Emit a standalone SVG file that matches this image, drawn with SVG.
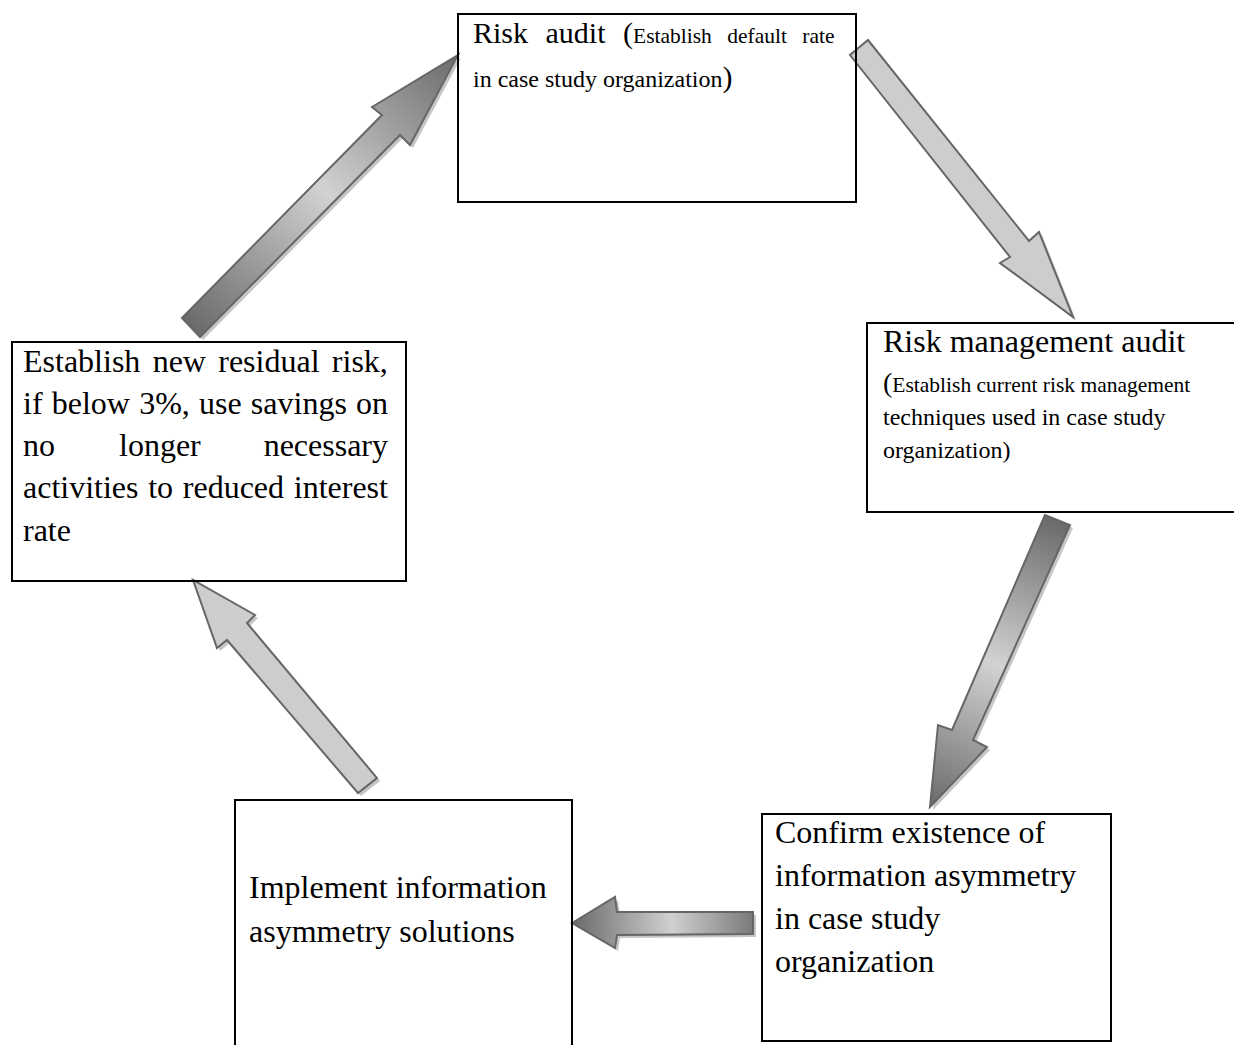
<svg xmlns="http://www.w3.org/2000/svg" xmlns:xlink="http://www.w3.org/1999/xlink" width="1234" height="1045" viewBox="0 0 1234 1045">
<style>
.box{fill:none;stroke:#000;stroke-width:2}
.t{font-family:"Liberation Serif","Times New Roman",serif;fill:#000}
.big{font-size:32px}
.arrow{stroke:#666;stroke-width:2;stroke-linejoin:miter}
.flat{fill:#cdcdcd}
.shadow{fill:#b8b8b8;stroke:none;opacity:0.8}
</style>
<defs>
<linearGradient id="g1" gradientUnits="userSpaceOnUse" x1="191" y1="327" x2="458" y2="55">
<stop offset="0" stop-color="#6a6a6a"/><stop offset="0.5" stop-color="#d2d2d2"/><stop offset="1" stop-color="#6a6a6a"/>
</linearGradient>
<linearGradient id="g3" gradientUnits="userSpaceOnUse" x1="1057" y1="520" x2="930" y2="807">
<stop offset="0" stop-color="#6a6a6a"/><stop offset="0.5" stop-color="#d2d2d2"/><stop offset="1" stop-color="#6a6a6a"/>
</linearGradient>
<linearGradient id="g4" gradientUnits="userSpaceOnUse" x1="753" y1="923" x2="572" y2="923">
<stop offset="0" stop-color="#7a7a7a"/><stop offset="0.45" stop-color="#d0d0d0"/><stop offset="1" stop-color="#6a6a6a"/>
</linearGradient>
<polygon id="a1" points="182,318 382,115 372,107 458,55 410,145 400,135 200,337"/>
<polygon id="a2" points="850,55 1010,257 1000,263 1073,317 1039,232 1029,241 868,40"/>
<polygon id="a3" points="1045,515 952,730 938,725 930,807 987,747 973,740 1070,525"/>
<polygon id="a4" points="572,923 615,897 617,912 753,912 753,934 617,935 615,948"/>
<polygon id="a5" points="193,580 217,648 227,640 358,793 377,778 247,623 255,615"/>
</defs>
<rect width="1234" height="1045" fill="#fff"/>
<g id="connectors">
<use xlink:href="#a1" class="shadow" transform="translate(3,3)"/>
<use xlink:href="#a1" class="arrow" fill="url(#g1)"/>
<use xlink:href="#a2" class="shadow" transform="translate(3,3)"/>
<use xlink:href="#a2" class="arrow flat"/>
<use xlink:href="#a3" class="shadow" transform="translate(3,3)"/>
<use xlink:href="#a3" class="arrow" fill="url(#g3)"/>
<use xlink:href="#a4" class="shadow" transform="translate(3,3)"/>
<use xlink:href="#a4" class="arrow" fill="url(#g4)"/>
<use xlink:href="#a5" class="shadow" transform="translate(3,3)"/>
<use xlink:href="#a5" class="arrow flat"/>
</g>
<g id="node-risk-audit">
<rect class="box" x="458" y="14" width="398" height="188"/>
<text class="t" x="473" y="43" word-spacing="10"><tspan font-size="30">Risk audit (</tspan><tspan font-size="21.5">Establish default rate</tspan></text>
<text class="t" x="473" y="87"><tspan font-size="24">in case study organization</tspan><tspan font-size="30">)</tspan></text>
</g>
<g id="node-risk-management-audit">
<rect class="box" x="867" y="323" width="374" height="189"/>
<text class="t big" x="883" y="352">Risk management audit</text>
<text class="t" x="883" y="392"><tspan font-size="28">(</tspan><tspan font-size="21.5">Establish current risk management</tspan></text>
<text class="t" x="883" y="425" font-size="24">techniques used in case study</text>
<text class="t" x="883" y="458" font-size="24">organization)</text>
</g>
<g id="node-confirm">
<rect class="box" x="762" y="814" width="349" height="227"/>
<text class="t big" x="775" y="843">Confirm existence of</text>
<text class="t big" x="775" y="886">information asymmetry</text>
<text class="t big" x="775" y="929">in case study</text>
<text class="t big" x="775" y="972">organization</text>
</g>
<g id="node-implement">
<rect class="box" x="235" y="800" width="337" height="260"/>
<text class="t big" x="249" y="898">Implement information</text>
<text class="t big" x="249" y="942">asymmetry solutions</text>
</g>
<g id="node-residual-risk">
<rect class="box" x="12" y="342" width="394" height="239"/>
<text class="t big" x="23" y="372" word-spacing="4.3">Establish new residual risk,</text>
<text class="t big" x="23" y="414" word-spacing="1.2">if below 3%, use savings on</text>
<text class="t big" y="456"><tspan x="23">no</tspan><tspan x="119">longer</tspan><tspan x="388" text-anchor="end">necessary</tspan></text>
<text class="t big" x="23" y="498" word-spacing="1.7">activities to reduced interest</text>
<text class="t big" x="23" y="541">rate</text>
</g>
</svg>
